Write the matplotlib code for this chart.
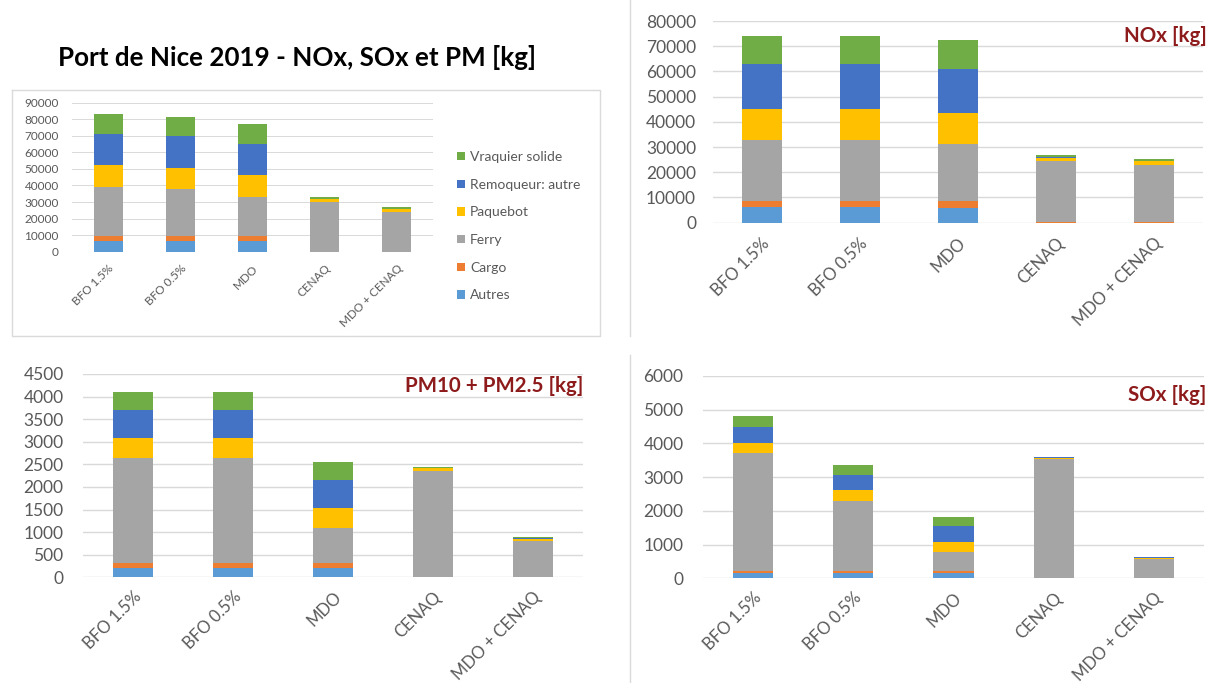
import matplotlib
matplotlib.use("Agg")
import matplotlib.pyplot as plt
from matplotlib.lines import Line2D
import numpy as np

plt.rcParams['font.family'] = ['Lato', 'DejaVu Sans']

categories = ["BFO 1.5%", "BFO 0.5%", "MDO", "CENAQ", "MDO + CENAQ"]
series_names = ["Autres", "Cargo", "Ferry", "Paquebot", "Remoqueur: autre", "Vraquier solide"]
colors = ["#5B9BD5", "#ED7D31", "#A5A5A5", "#FFC000", "#4472C4", "#70AD47"]

# Total NOx + SOx + PM [kg]
total_autres = [6460, 6460, 6360, 68, 68]
total_cargo = [2870, 2870, 2920, 45, 45]
total_ferry = [29930, 28515, 23745, 30080, 24100]
total_paquebot = [12955, 12965, 13055, 1590, 1700]
total_remorqueur = [18975, 18960, 18680, 282, 170]
total_vraquier = [11720, 11695, 12180, 737, 680]

# NOx [kg]
nox_autres = [6100, 6100, 6000, 60, 60]
nox_cargo = [2700, 2700, 2750, 40, 40]
nox_ferry = [24100, 24100, 22400, 24200, 22750]
nox_paquebot = [12200, 12200, 12300, 1500, 1600]
nox_remorqueur = [17900, 17900, 17600, 250, 150]
nox_vraquier = [11000, 11000, 11500, 700, 650]

# PM10 + PM2.5 [kg]
pm_autres = [210, 210, 210, 5, 5]
pm_cargo = [100, 100, 100, 3, 3]
pm_ferry = [2340, 2340, 790, 2350, 785]
pm_paquebot = [440, 440, 440, 60, 60]
pm_remorqueur = [615, 615, 615, 12, 12]
pm_vraquier = [405, 405, 405, 22, 22]

# SOx [kg]
sox_autres = [150, 150, 150, 3, 3]
sox_cargo = [70, 70, 70, 2, 2]
sox_ferry = [3490, 2075, 555, 3530, 565]
sox_paquebot = [315, 325, 315, 30, 40]
sox_remorqueur = [460, 445, 465, 20, 8]
sox_vraquier = [315, 290, 275, 15, 8]

total_data = [total_autres, total_cargo, total_ferry, total_paquebot, total_remorqueur, total_vraquier]
nox_data = [nox_autres, nox_cargo, nox_ferry, nox_paquebot, nox_remorqueur, nox_vraquier]
pm_data = [pm_autres, pm_cargo, pm_ferry, pm_paquebot, pm_remorqueur, pm_vraquier]
sox_data = [sox_autres, sox_cargo, sox_ferry, sox_paquebot, sox_remorqueur, sox_vraquier]

W, H = 1212, 683
fig = plt.figure(figsize=(W / 100, H / 100), dpi=100)
fig.patch.set_facecolor("white")

def px_axes(x0, x1, ytop, ybot):
    return fig.add_axes([x0 / W, (H - ybot) / H, (x1 - x0) / W, (ybot - ytop) / H])

TICK = "#595959"
GRID = "#D9D9D9"
DARKRED = "#8E1B1B"

def draw(ax, data, ymax, step, fs, xfs, pad, xpad, grid_lw, width=0.41):
    x = np.arange(len(categories))
    bottom = np.zeros(len(categories))
    handles = []
    for name, vals, c in zip(series_names, data, colors):
        b = ax.bar(x, vals, width=width, bottom=bottom, color=c, label=name, zorder=3)
        handles.append(b)
        bottom = bottom + np.array(vals)
    ax.set_xlim(-0.5, len(categories) - 0.5)
    ax.set_ylim(0, ymax)
    ax.set_yticks(np.arange(0, ymax + 1, step))
    ax.yaxis.grid(True, color=GRID, lw=grid_lw, zorder=0)
    ax.set_axisbelow(True)
    for s in ax.spines.values():
        s.set_visible(False)
    ax.tick_params(axis='y', length=0, labelsize=fs, labelcolor=TICK, pad=pad)
    ax.tick_params(axis='x', length=0, labelsize=xfs, labelcolor=TICK, pad=xpad)
    ax.set_xticks(x)
    ax.set_xticklabels(categories, rotation=45, ha='right', va='top', rotation_mode='anchor')
    return handles

# Top-left: total
ax0 = px_axes(72, 433, 102.7, 251.7)
h0 = draw(ax0, total_data, 90000, 10000, 8.5, 8.5, 9.5, 8, 0.7, width=0.4)
leg = ax0.legend(h0[::-1], series_names[::-1],
                 loc='upper left', bbox_to_anchor=(457 / W, (H - 151) / H),
                 bbox_transform=fig.transFigure, frameon=False, fontsize=10,
                 handlelength=0.55, handleheight=0.55, handletextpad=0.4,
                 labelspacing=1.13, borderaxespad=0, borderpad=0)
for t in leg.get_texts():
    t.set_color(TICK)
fig.text(297 / W, (H - 58) / H, "Port de Nice 2019 - NOx, SOx et PM [kg]",
         ha='center', va='center', fontsize=18.7, fontweight='bold', color='black')

# Top-right: NOx
ax1 = px_axes(712.7, 1202.7, 21, 222.7)
draw(ax1, nox_data, 80000, 10000, 12.5, 12, 12, 9, 1.0)
fig.text(1207 / W, (H - 36) / H, "NOx [kg]", ha='right', va='center',
         fontsize=14.8, fontweight='bold', color=DARKRED)

# Bottom-left: PM
ax2 = px_axes(83, 583, 374, 577.3)
draw(ax2, pm_data, 4500, 500, 12.5, 12, 14, 8, 1.0, width=0.4)
fig.text(583 / W, (H - 386) / H, "PM10 + PM2.5 [kg]", ha='right', va='center',
         fontsize=14.8, fontweight='bold', color=DARKRED)

# Bottom-right: SOx
ax3 = px_axes(703, 1204, 376, 578.3)
draw(ax3, sox_data, 6000, 1000, 12.5, 12, 14, 8, 1.0, width=0.4)
fig.text(1206 / W, (H - 395) / H, "SOx [kg]", ha='right', va='center',
         fontsize=14.8, fontweight='bold', color=DARKRED)

# Panel borders
def fline(xs, ys):
    fig.add_artist(Line2D([v / W for v in xs], [(H - v) / H for v in ys],
                          color="#DADADA", lw=1.0))

fline([12, 600, 600, 12, 12], [90, 90, 336, 336, 90])
fline([630, 630], [0, 336])
fline([630, 630], [355, 683])

fig.savefig("out.png", dpi=100, facecolor="white")
